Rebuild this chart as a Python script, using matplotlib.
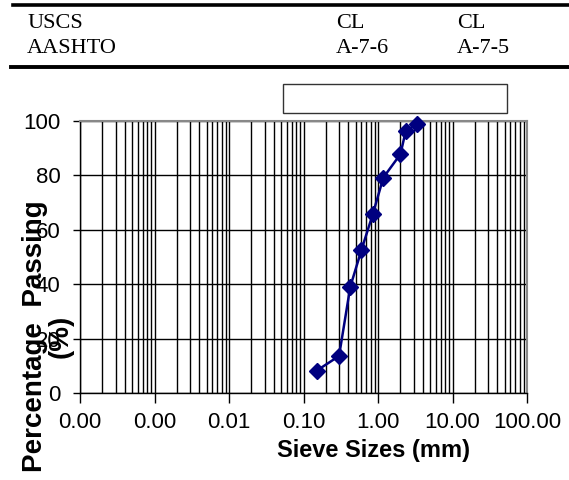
import numpy as np
import matplotlib
matplotlib.use("Agg")
import matplotlib.pyplot as plt
from matplotlib.lines import Line2D
from matplotlib.patches import Rectangle
from matplotlib.ticker import LogLocator, FormatStrFormatter

# sieve analysis
sieve_mm = [0.150, 0.300, 0.425, 0.600, 0.850, 1.18, 2.00, 2.36, 3.35]
passing = [8.2, 13.6, 39.1, 52.6, 65.7, 79.2, 87.8, 96.4, 98.8]

# classification table above the chart
row_names = ["USCS", "AASHTO"]
col_a = ["CL", "A-7-6"]
col_b = ["CL", "A-7-5"]

y_ticks = [0, 20, 40, 60, 80, 100]

W, H = 569, 480
fig = plt.figure(figsize=(W / 100, H / 100), dpi=100)

def fx(px):
    return px / W

def fy(py):
    return 1 - py / H

# table rules and text
fig.add_artist(Line2D([fx(13), 1], [fy(5), fy(5)], color="black", lw=2.6))
fig.add_artist(Line2D([fx(11), 1], [fy(67), fy(67)], color="black", lw=2.8))
serif = dict(family="Liberation Serif", fontsize=16, va="baseline")
for i, base in enumerate([28, 53]):
    fig.text(fx(27), fy(base), row_names[i], **serif)
    fig.text(fx(336), fy(base), col_a[i], **serif)
    fig.text(fx(457), fy(base), col_b[i], **serif)

# empty legend box
fig.add_artist(Rectangle((fx(283), fy(113)), fx(507) - fx(283), fy(84) - fy(113),
                         transform=fig.transFigure, fill=False, ec="#333333", lw=1.0))

ax = fig.add_axes([fx(80), fy(393), fx(527) - fx(80), fy(121) - fy(393)])
ax.set_xscale("log")
ax.set_xlim(1e-4, 100)
ax.set_ylim(0, 100)

ax.plot(sieve_mm, passing, color="#000080", lw=1.8, marker="D", ms=8, zorder=3,
        clip_on=False)

ax.xaxis.set_major_locator(LogLocator(base=10, numticks=10))
ax.xaxis.set_minor_locator(LogLocator(base=10, subs=np.arange(2, 10), numticks=20))
ax.xaxis.set_major_formatter(FormatStrFormatter("%.2f"))
ax.xaxis.set_minor_formatter(plt.NullFormatter())
ax.set_yticks(y_ticks)

ax.grid(True, which="both", axis="x", color="black", lw=1.0)
ax.grid(True, which="major", axis="y", color="black", lw=1.0)
ax.set_axisbelow(True)

ax.tick_params(axis="x", which="major", direction="out", length=7, width=1, pad=7)
ax.tick_params(axis="x", which="minor", length=0)
ax.tick_params(axis="y", direction="out", length=5, width=1, pad=9)
for lab in ax.get_xticklabels() + ax.get_yticklabels():
    lab.set_family("Liberation Sans")
    lab.set_fontsize(16)

for s in ["top", "right"]:
    ax.spines[s].set_color("#888888")
    ax.spines[s].set_linewidth(1.5)
for s in ["left", "bottom"]:
    ax.spines[s].set_color("black")
    ax.spines[s].set_linewidth(1.0)

fig.text(fx(373.5), fy(451), "Sieve Sizes (mm)", family="Liberation Sans",
         fontweight="bold", fontsize=17, ha="center", va="center")
fig.text(fx(48), fy(336), "Percentage  Passing\n(%)", family="Liberation Sans",
         fontweight="bold", fontsize=20, rotation=90, ha="center", va="center",
         multialignment="center", linespacing=1.0)

fig.savefig("out.png", dpi=100)
